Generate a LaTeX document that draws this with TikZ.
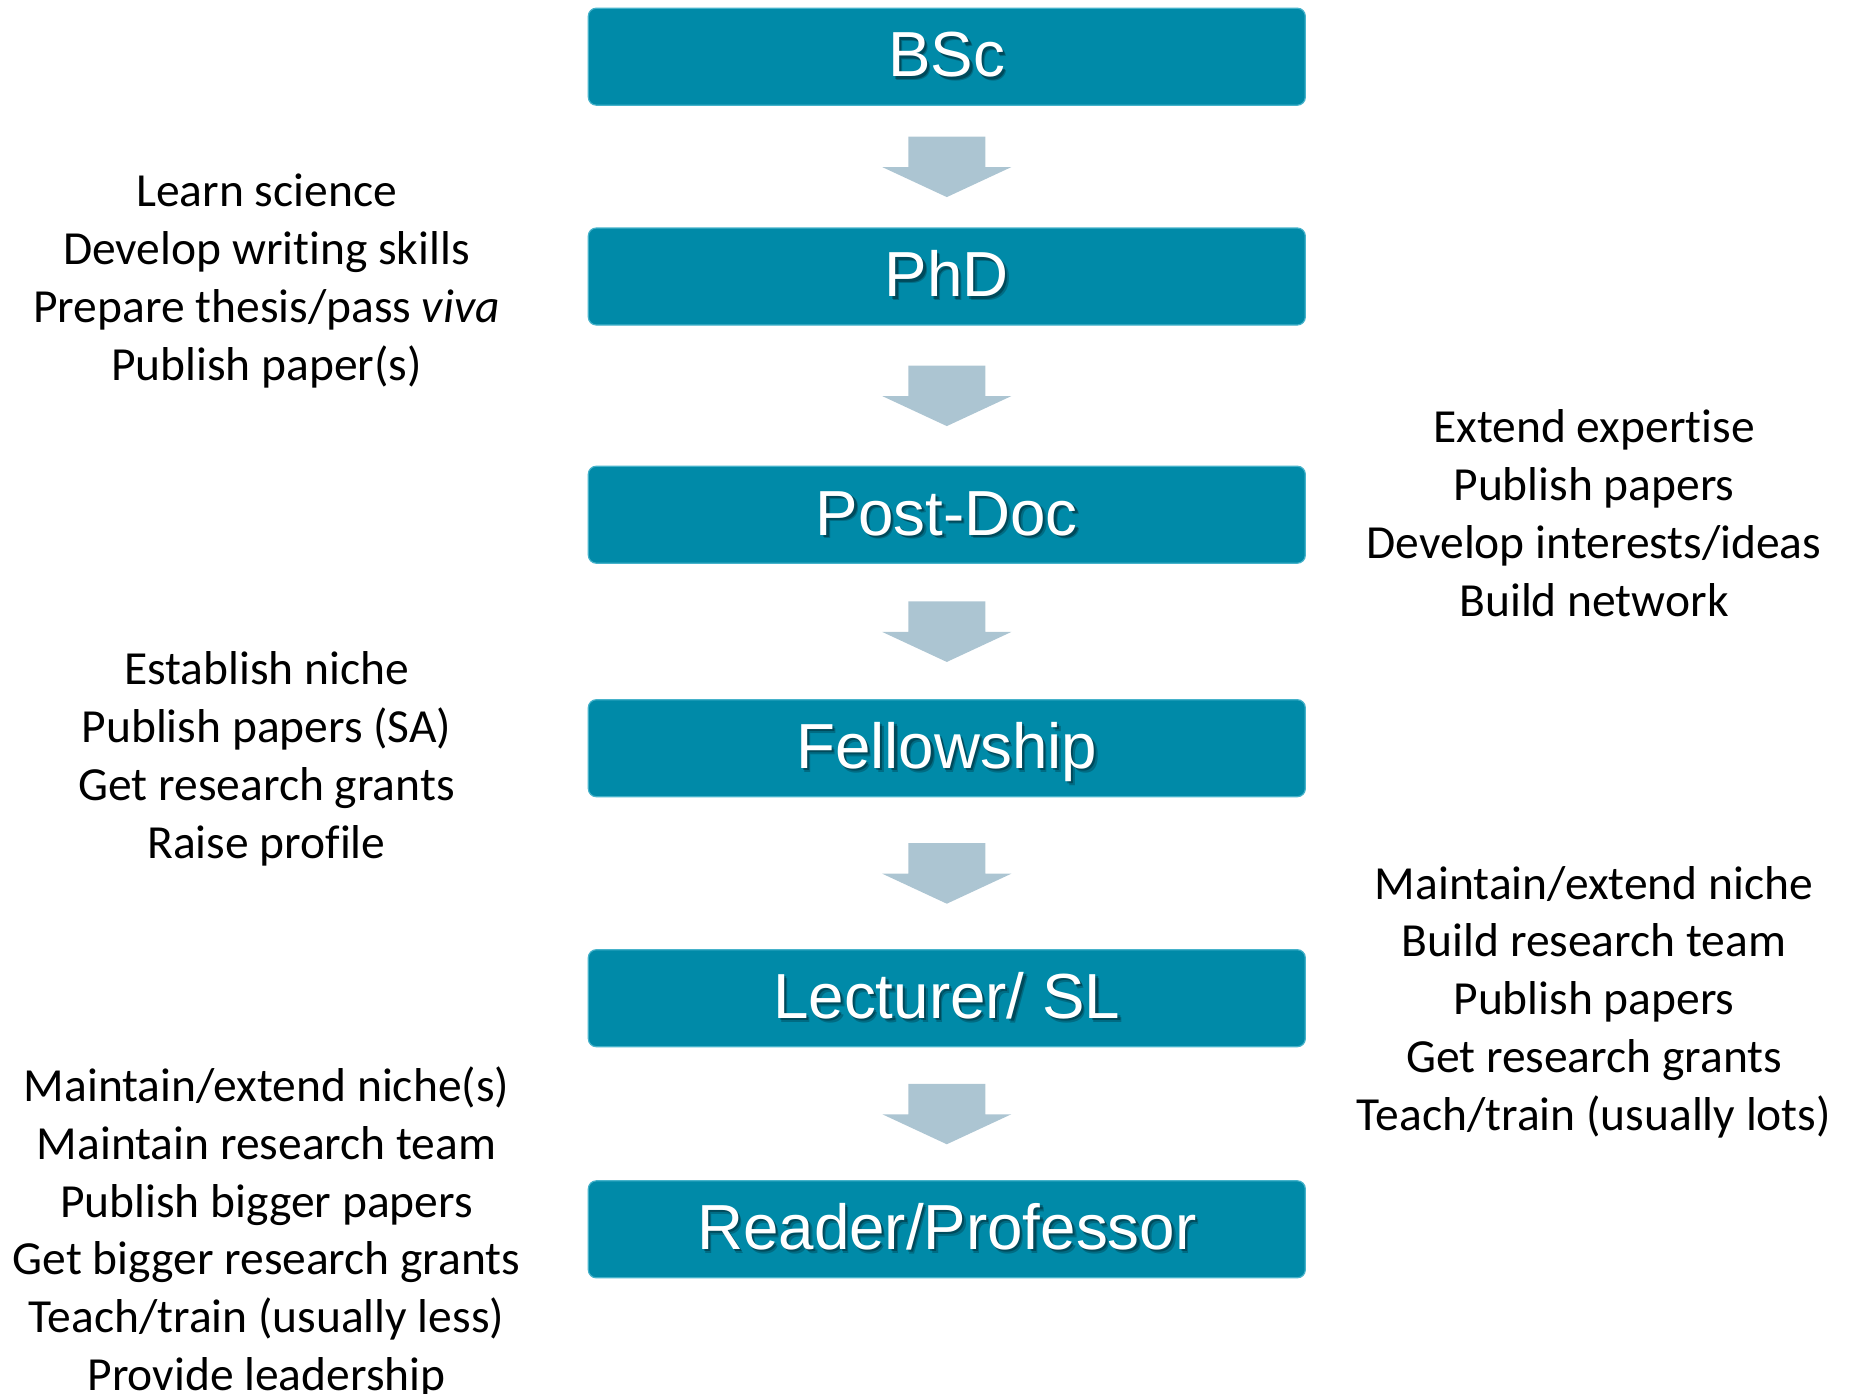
\documentclass[tikz,border=0pt]{standalone}
\usepackage{fontspec}
\setmainfont{Carlito}[Ligatures={NoCommon}]
\newfontfamily\stagefont{Liberation Sans}
\usetikzlibrary{calc}
\definecolor{stagefill}{RGB}{0,138,168}
\definecolor{stageedge}{RGB}{70,178,202}
\definecolor{arrowfill}{RGB}{172,197,210}

% one career stage: coloured box with a white, shadowed caption
\newcommand\careerstage[3]{%
  \node[stage] (#1) at (946.8,#2) {};
  \coordinate (#1-mid) at ([shift={(0,-2.5)}]#1.center);
  \node[stagetext, text=black, opacity=0.22] at ([shift={(3.5,3.5)}]#1-mid) {#3};
  \node[stagetext, text=black, opacity=0.30] at ([shift={(2.2,2.2)}]#1-mid) {#3};
  \node[stagetext] (#1-text) at (#1-mid) {#3};
}
% block arrow centred in the gap between two stages
\newcommand\stagearrow[2]{%
  \coordinate (#1-#2) at ($(#1.south)!0.5!(#2.north)$);
  \fill[arrowfill] ([shift={(-38.5,-30)}]#1-#2) -- ([shift={(38.5,-30)}]#1-#2)
    -- ([shift={(38.5,0.5)}]#1-#2) -- ([shift={(64.5,0.5)}]#1-#2)
    -- ([shift={(0,30.5)}]#1-#2) -- ([shift={(-64.5,0.5)}]#1-#2)
    -- ([shift={(-38.5,0.5)}]#1-#2) -- cycle;
}

\begin{document}
\begin{tikzpicture}[x=1pt,y=-1pt,
  stage/.style={draw=stageedge, line width=1.2pt, fill=stagefill,
    rounded corners=8pt, minimum width=717pt, minimum height=97pt, inner sep=0pt},
  stagetext/.style={font=\stagefont\fontsize{63.7}{63.7}\selectfont, text=white,
    inner sep=0pt, text height=45.6pt, text depth=0pt},
  notes/.style={font=\fontsize{47.5}{57.8}\selectfont, align=center,
    text=black, inner sep=0pt},
]
\useasboundingbox (0,0) rectangle (1849,1394);

\careerstage{bsc}{56.7}{BSc}
\careerstage{phd}{276.5}{PhD}
\careerstage{postdoc}{514.7}{Post-Doc}
\careerstage{fellow}{748.2}{Fellowship}
\careerstage{lecturer}{998.2}{Lecturer/ SL}
\careerstage{reader}{1229.3}{Reader/Professor}

\stagearrow{bsc}{phd}
\stagearrow{phd}{postdoc}
\stagearrow{postdoc}{fellow}
\stagearrow{fellow}{lecturer}
\stagearrow{lecturer}{reader}

\node[notes] (phdnotes) at (266.5,281) {Learn science\\Develop writing skills\\Prepare thesis/pass \textit{viva}\\Publish paper(s)};
\node[notes] (postdocnotes) at (1594,513) {Extend expertise\\Publish papers\\Develop interests/ideas\\Build network};
\node[notes] (fellownotes) at (266.5,759) {Establish niche\\Publish papers (SA)\\Get research grants\\Raise profile};
\node[notes] (lecturernotes) at (1594,1002) {Maintain/extend niche\\Build research team\\Publish papers\\Get research grants\\Teach/train (usually lots)};
\node[notes] (readernotes) at (266.5,1232.5) {Maintain/extend niche(s)\\Maintain research team\\Publish bigger papers\\Get bigger research grants\\Teach/train (usually less)\\Provide leadership};
\end{tikzpicture}
\end{document}
